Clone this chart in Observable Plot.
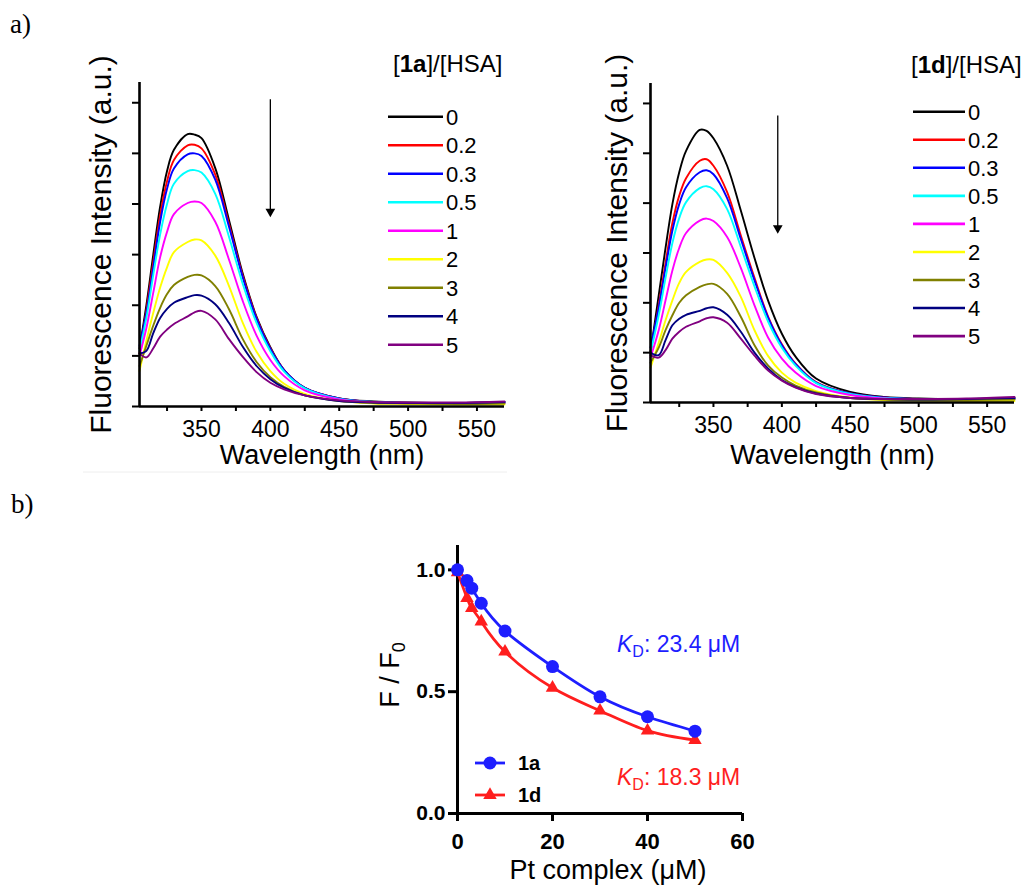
<!DOCTYPE html>
<html>
<head>
<meta charset="utf-8">
<script src="https://cdn.jsdelivr.net/npm/d3@7"></script>
<script src="https://cdn.jsdelivr.net/npm/@observablehq/plot@0.6"></script>
<style>
  html,body{margin:0;padding:0;background:#fff;}
  #fig{position:relative;width:1032px;height:890px;overflow:hidden;background:#fff;}
</style>
</head>
<body>
<div id="fig"></div>
<script>
// ---------- data ----------
const ratios = ["0", "0.2", "0.3", "0.5", "1", "2", "3", "4", "5"];
const colors = ["#000000", "#ff0000", "#0000ff", "#00ffff", "#ff00ff", "#ffff00", "#808000", "#000080", "#800080"];
const majorWl = [350, 400, 450, 500, 550];
const minorWl = [325, 375, 425, 475, 525];
const intensityTicks = [0, 1, 2, 3, 4, 5, 6];

const wl1a = [305, 310, 315, 320, 325, 330, 340, 345, 350, 360, 370, 380, 390, 400, 410, 425, 450, 475, 500, 535, 570];
const spectra1a = [
  [1.15, 2.0, 3.0, 3.95, 4.65, 5.07, 5.38, 5.37, 5.3, 4.71, 3.68, 2.62, 1.77, 1.17, 0.72, 0.37, 0.16, 0.1, 0.08, 0.07, 0.09],
  [1.05, 1.9, 2.85, 3.78, 4.45, 4.87, 5.16, 5.17, 5.1, 4.58, 3.6, 2.58, 1.75, 1.15, 0.72, 0.37, 0.16, 0.09, 0.07, 0.06, 0.08],
  [1.2, 1.85, 2.75, 3.65, 4.3, 4.7, 4.98, 5.0, 4.95, 4.48, 3.55, 2.55, 1.73, 1.14, 0.72, 0.37, 0.16, 0.09, 0.07, 0.06, 0.08],
  [1.1, 1.75, 2.6, 3.4, 4.0, 4.4, 4.65, 4.67, 4.62, 4.2, 3.35, 2.42, 1.65, 1.09, 0.69, 0.36, 0.15, 0.09, 0.07, 0.06, 0.08],
  [1.0, 1.55, 2.25, 2.95, 3.45, 3.8, 4.02, 4.05, 4.02, 3.65, 2.9, 2.08, 1.4, 0.92, 0.6, 0.32, 0.14, 0.08, 0.06, 0.06, 0.07],
  [0.7, 1.3, 1.85, 2.35, 2.75, 3.05, 3.25, 3.3, 3.28, 2.98, 2.38, 1.65, 1.08, 0.7, 0.45, 0.25, 0.11, 0.06, 0.05, 0.04, 0.04],
  [0.8, 1.2, 1.6, 1.95, 2.22, 2.4, 2.56, 2.6, 2.59, 2.38, 1.92, 1.33, 0.88, 0.58, 0.39, 0.22, 0.11, 0.07, 0.06, 0.05, 0.06],
  [1.05, 1.1, 1.45, 1.75, 1.93, 2.05, 2.16, 2.2, 2.19, 2.02, 1.65, 1.18, 0.8, 0.54, 0.37, 0.22, 0.11, 0.08, 0.07, 0.07, 0.09],
  [1.05, 0.97, 1.15, 1.38, 1.52, 1.63, 1.78, 1.86, 1.89, 1.72, 1.33, 0.98, 0.68, 0.47, 0.34, 0.22, 0.12, 0.09, 0.08, 0.08, 0.1]
];

const wl1d = [304, 310, 315, 320, 325, 330, 340, 345, 350, 360, 370, 380, 390, 400, 410, 425, 450, 475, 500, 535, 570];
const spectra1d = [
  [1.0, 2.15, 3.1, 3.98, 4.62, 5.05, 5.47, 5.45, 5.3, 4.75, 3.85, 2.9, 2.04, 1.38, 0.92, 0.48, 0.21, 0.11, 0.08, 0.07, 0.09],
  [1.0, 1.95, 2.8, 3.6, 4.15, 4.5, 4.85, 4.88, 4.75, 4.22, 3.35, 2.5, 1.72, 1.17, 0.78, 0.41, 0.18, 0.1, 0.07, 0.06, 0.08],
  [1.1, 1.9, 2.7, 3.45, 3.98, 4.32, 4.62, 4.66, 4.58, 4.1, 3.28, 2.45, 1.7, 1.15, 0.77, 0.4, 0.18, 0.1, 0.07, 0.06, 0.08],
  [1.0, 1.75, 2.5, 3.2, 3.7, 4.02, 4.3, 4.34, 4.28, 3.88, 3.12, 2.33, 1.62, 1.1, 0.74, 0.39, 0.17, 0.09, 0.07, 0.06, 0.08],
  [0.9, 1.45, 2.05, 2.65, 3.1, 3.4, 3.65, 3.69, 3.64, 3.32, 2.7, 1.95, 1.3, 0.88, 0.6, 0.33, 0.15, 0.08, 0.06, 0.05, 0.07],
  [0.7, 1.2, 1.65, 2.05, 2.4, 2.62, 2.82, 2.87, 2.86, 2.6, 2.12, 1.45, 0.93, 0.6, 0.4, 0.23, 0.1, 0.05, 0.04, 0.03, 0.03],
  [0.8, 1.1, 1.45, 1.75, 2.0, 2.15, 2.32, 2.37, 2.38, 2.18, 1.72, 1.15, 0.74, 0.5, 0.34, 0.2, 0.09, 0.06, 0.05, 0.05, 0.06],
  [1.0, 0.95, 1.25, 1.55, 1.68, 1.76, 1.84, 1.89, 1.91, 1.76, 1.42, 1.0, 0.68, 0.45, 0.31, 0.18, 0.09, 0.07, 0.06, 0.07, 0.09],
  [0.95, 0.9, 1.05, 1.28, 1.42, 1.52, 1.63, 1.69, 1.71, 1.6, 1.28, 0.94, 0.64, 0.44, 0.3, 0.17, 0.09, 0.07, 0.07, 0.08, 0.11]
];

// arrow annotations (data units)
const arrow1a = [{x: 400, yTop: 6.06, yHead: 3.85}];
const arrow1d = [{x: 397, yTop: 5.75, yHead: 3.5}];

// panel b
const conc = [0, 2, 3, 5, 10, 20, 30, 40, 50];
const ratio1a = [1.0, 0.956, 0.925, 0.863, 0.749, 0.603, 0.479, 0.397, 0.338];
const ratio1d = [0.99, 0.884, 0.843, 0.788, 0.664, 0.516, 0.422, 0.34, 0.301];
const concTicks = [0, 20, 40, 60];
const ratioTicks = [0, 0.5, 1.0];
const kdText = ["23.4", "18.3"];
const seriesNames = ["1a", "1d"];
const seriesColors = ["#1e1eff", "#ff1e1e"];

// ---------- layout ----------
const FONT = '"Liberation Sans", Arial, Helvetica, sans-serif';
const fig = document.getElementById("fig");
function place(node, left, top) {
  node.style.position = "absolute";
  node.style.left = left + "px";
  node.style.top = top + "px";
  fig.appendChild(node);
}

function spectraPlot({wl, spectra, xDomain, arrow, W, H, mL, mR, mT, mB, yLabelDx, xLabelDy}) {
  const rows = spectra.flatMap((vals, i) => vals.map((v, j) => ({wl: wl[j], v, k: ratios[i]})));
  return Plot.plot({
    width: W, height: H,
    marginLeft: mL, marginRight: mR, marginTop: mT, marginBottom: mB,
    style: {fontFamily: FONT, background: "transparent", color: "#000", overflow: "visible"},
    x: {domain: xDomain},
    y: {domain: [0, 6.4]},
    color: {domain: ratios, range: colors},
    marks: [
      Plot.line(rows, {x: "wl", y: "v", z: "k", stroke: "k", strokeWidth: 1.9, curve: "catmull-rom"}),
      Plot.ruleY([0], {strokeWidth: 2.6}),
      Plot.ruleX([xDomain[0]], {strokeWidth: 2.6}),
      Plot.axisX({ticks: majorWl, tickSize: 5, tickPadding: 9, strokeWidth: 2, fontSize: 23, label: null, tickFormat: d => String(d)}),
      Plot.axisX({ticks: minorWl, tickSize: 5, strokeWidth: 2, tickFormat: () => "", label: null}),
      Plot.axisY({ticks: intensityTicks, tickSize: 7, strokeWidth: 2, tickFormat: () => "", label: null}),
      Plot.text(["Wavelength (nm)"], {frameAnchor: "bottom", textAnchor: "middle", lineAnchor: "middle", dy: xLabelDy, fontSize: 27}),
      Plot.text(["Fluorescence Intensity (a.u.)"], {frameAnchor: "left", textAnchor: "middle", lineAnchor: "middle", dx: yLabelDx, rotate: -90, fontSize: 30}),
      Plot.ruleX(arrow, {x: "x", y1: "yTop", y2: "yHead", strokeWidth: 1.3}),
      Plot.dot(arrow, {x: "x", y: "yHead", symbol: "triangle", rotate: 180, fill: "#000", stroke: null, r: 3.6})
    ]
  });
}

place(spectraPlot({wl: wl1a, spectra: spectra1a, xDomain: [305, 570], arrow: arrow1a,
  W: 520, H: 440, mL: 139, mR: 16, mT: 42, mB: 74, yLabelDx: -38, xLabelDy: 49}), 0, 40);
place(spectraPlot({wl: wl1d, spectra: spectra1d, xDomain: [304, 570], arrow: arrow1d,
  W: 520, H: 440, mL: 140, mR: 16, mT: 43, mB: 78, yLabelDx: -33, xLabelDy: 53}), 510, 40);

// panel b
const pts1a = conc.map((c, i) => ({c, r: ratio1a[i]}));
const pts1d = conc.map((c, i) => ({c, r: ratio1d[i]}));
const plotB = Plot.plot({
  width: 400, height: 360,
  marginLeft: 77, marginRight: 38, marginTop: 15, marginBottom: 77,
  style: {fontFamily: FONT, background: "transparent", color: "#000", overflow: "visible"},
  x: {domain: [0, 60]},
  y: {domain: [0, 1.1]},
  marks: [
    Plot.ruleY([0], {strokeWidth: 3}),
    Plot.ruleX([0], {strokeWidth: 3}),
    Plot.axisX({ticks: concTicks, tickSize: 8, tickPadding: 12, strokeWidth: 3, fontSize: 22, fontWeight: "bold", label: null}),
    Plot.axisY({ticks: ratioTicks, tickSize: 9, tickPadding: 3, strokeWidth: 3, fontSize: 21, fontWeight: "bold", tickFormat: d3.format(".1f"), label: null}),
    Plot.text(["Pt complex (\u03bcM)"], {frameAnchor: "bottom", textAnchor: "middle", lineAnchor: "middle", dx: 8, dy: 57, fontSize: 27}),
    Plot.line(pts1a, {x: "c", y: "r", stroke: seriesColors[0], strokeWidth: 2.8, curve: "natural"}),
    Plot.line(pts1d, {x: "c", y: "r", stroke: seriesColors[1], strokeWidth: 2.8, curve: "natural"}),
    Plot.dot(pts1d, {x: "c", y: "r", symbol: "triangle", r: 5, fill: seriesColors[1], stroke: null}),
    Plot.dot(pts1a, {x: "c", y: "r", r: 6.5, fill: seriesColors[0], stroke: null})
  ]
});
place(plotB, 380, 530);

// ---------- overlay annotations ----------
const ov = d3.select(fig).append("svg")
  .attr("width", 1032).attr("height", 890)
  .style("position", "absolute").style("left", "0px").style("top", "0px")
  .style("pointer-events", "none").style("font-family", FONT);

const serif = '"Liberation Serif", "Times New Roman", serif';
ov.append("text").attr("x", 10).attr("y", 33).attr("font-family", serif).attr("font-size", 27).text("a)");
ov.append("text").attr("x", 11).attr("y", 513).attr("font-family", serif).attr("font-size", 27).text("b)");
ov.append("line").attr("x1", 83).attr("x2", 507).attr("y1", 472).attr("y2", 472).attr("stroke", "#eeeeee").attr("stroke-width", 1);

function spectraLegend(bold, tx, ty, lx1, lx2, textX, y0, dy) {
  const t = ov.append("text").attr("x", tx).attr("y", ty).attr("font-size", 24);
  t.append("tspan").text("[");
  t.append("tspan").attr("font-weight", "bold").text(bold);
  t.append("tspan").text("]/[HSA]");
  ratios.forEach((r, i) => {
    const cy = y0 + i * dy;
    ov.append("line").attr("x1", lx1).attr("x2", lx2).attr("y1", cy).attr("y2", cy)
      .attr("stroke", colors[i]).attr("stroke-width", 2.6);
    ov.append("text").attr("x", textX).attr("y", cy).attr("dy", "0.36em").attr("font-size", 22).text(r);
  });
}
spectraLegend("1a", 393, 72, 388, 443, 446, 116.7, 28.5);
spectraLegend("1d", 911, 73, 913, 965, 968, 111.7, 28.05);

function kd(x, y, color, value) {
  const t = ov.append("text").attr("x", x).attr("y", y).attr("fill", color).attr("font-size", 23);
  t.append("tspan").attr("font-style", "italic").text("K");
  t.append("tspan").attr("font-size", 16).attr("dy", 5).text("D");
  t.append("tspan").attr("dy", -5).text(": " + value + " \u03bcM");
}
kd(617, 652, seriesColors[0], kdText[0]);
kd(617, 785, seriesColors[1], kdText[1]);

// F / F0 label
const fl = ov.append("text").attr("transform", "translate(390,675) rotate(-90)")
  .attr("text-anchor", "middle").attr("dy", "0.35em").attr("font-size", 27);
fl.append("tspan").text("F / F");
fl.append("tspan").attr("font-size", 18).attr("dy", 6).text("0");

// panel b legend
const legY = [763, 795];
seriesNames.forEach((name, i) => {
  const y = legY[i];
  ov.append("line").attr("x1", 475).attr("x2", 505).attr("y1", y).attr("y2", y)
    .attr("stroke", seriesColors[i]).attr("stroke-width", 2.8);
  if (i === 0) {
    ov.append("circle").attr("cx", 490).attr("cy", y).attr("r", 6.5).attr("fill", seriesColors[i]);
  } else {
    ov.append("path").attr("transform", `translate(490,${y})`)
      .attr("d", d3.symbol().type(d3.symbolTriangle).size(Math.PI * 25)()).attr("fill", seriesColors[i]);
  }
  ov.append("text").attr("x", 518).attr("y", y).attr("dy", "0.36em")
    .attr("font-size", 20).attr("font-weight", "bold").text(name);
});
</script>
</body>
</html>
